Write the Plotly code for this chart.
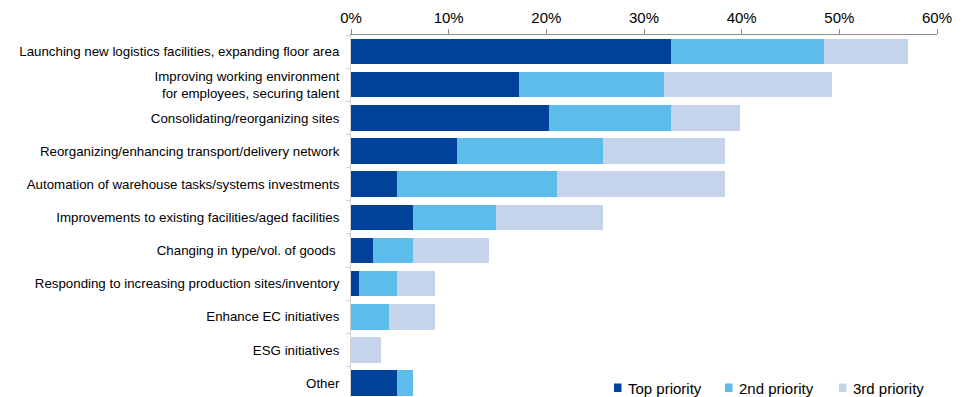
import plotly.graph_objects as go

# Survey: reasons for planned logistics investment (share of respondents, %)
categories = [
    "Launching new logistics facilities, expanding floor area",
    "Improving working environment<br>for employees, securing talent",
    "Consolidating/reorganizing sites",
    "Reorganizing/enhancing transport/delivery network",
    "Automation of warehouse tasks/systems investments",
    "Improvements to existing facilities/aged facilities",
    "Changing in type/vol. of goods ",
    "Responding to increasing production sites/inventory",
    "Enhance EC initiatives",
    "ESG initiatives",
    "Other",
]
top_priority = [32.8, 17.2, 20.3, 10.9, 4.7, 6.3, 2.3, 0.8, 0.0, 0.0, 4.7]
second_priority = [15.6, 14.8, 12.5, 14.9, 16.4, 8.5, 4.0, 3.9, 3.9, 0.0, 1.6]
third_priority = [8.6, 17.2, 7.0, 12.5, 17.2, 11.0, 7.8, 3.9, 4.7, 3.1, 0.0]

x_ticks = [0, 10, 20, 30, 40, 50, 60]
x_tick_labels = ["0%", "10%", "20%", "30%", "40%", "50%", "60%"]

series_names = ["Top priority", "2nd priority", "3rd priority"]
series_values = [top_priority, second_priority, third_priority]
series_colors = ["#00419A", "#5CBCEA", "#C5D3EB"]

W, H = 970, 397
M_L, M_R, M_T, M_B = 351, 33, 35, 0
PLOT_W = W - M_L - M_R
PLOT_H = H - M_T - M_B


def px_x(px):
    """Pixel column -> paper x."""
    return (px - M_L) / PLOT_W


def px_y(py):
    """Pixel row -> paper y."""
    return (H - M_B - py) / PLOT_H


fig = go.Figure()
for name, values, color in zip(series_names, series_values, series_colors):
    fig.add_trace(go.Bar(
        y=categories,
        x=values,
        name=name,
        orientation="h",
        width=0.77,
        marker=dict(color=color, line=dict(width=0)),
        showlegend=False,
    ))

font_family = "Liberation Sans, Arial, sans-serif"

# Legend row (bottom right): small colour swatch followed by its label
legend_swatch_x = [614, 725, 839]
shapes = []
annotations = []
for sx, name, color in zip(legend_swatch_x, series_names, series_colors):
    shapes.append(dict(
        type="rect", xref="paper", yref="paper",
        x0=px_x(sx), x1=px_x(sx + 7.5),
        y0=px_y(392), y1=px_y(383.5),
        fillcolor=color, line=dict(width=0), layer="above",
    ))
    annotations.append(dict(
        xref="paper", yref="paper",
        x=px_x(sx + 11.5), y=px_y(388),
        xanchor="left", yanchor="middle",
        text=name, showarrow=False,
        font=dict(family=font_family, size=15, color="#000000"),
    ))

fig.update_layout(
    barmode="stack",
    width=W,
    height=H,
    margin=dict(l=M_L, r=M_R, t=M_T, b=M_B, autoexpand=False),
    paper_bgcolor="white",
    plot_bgcolor="white",
    font=dict(family=font_family, size=13.3, color="#000000"),
    showlegend=False,
    shapes=shapes,
    annotations=annotations,
    xaxis=dict(
        side="top",
        range=[0, 60],
        tickvals=x_ticks,
        ticktext=x_tick_labels,
        showgrid=False,
        zeroline=False,
        showline=True,
        linecolor="#8C8C8C",
        linewidth=1,
        ticks="outside",
        ticklen=5,
        tickcolor="#8C8C8C",
        tickfont=dict(size=15, color="#000000"),
    ),
    yaxis=dict(
        type="category",
        categoryorder="array",
        categoryarray=categories,
        range=[10.42, -0.5],
        showgrid=False,
        zeroline=False,
        showline=True,
        linecolor="#D0D0D0",
        linewidth=1,
        ticks="outside",
        tickson="boundaries",
        ticklen=4,
        tickcolor="#D0D0D0",
        ticklabelstandoff=8,
        tickfont=dict(size=13.3, color="#000000"),
    ),
)

fig.write_html("out.html")
